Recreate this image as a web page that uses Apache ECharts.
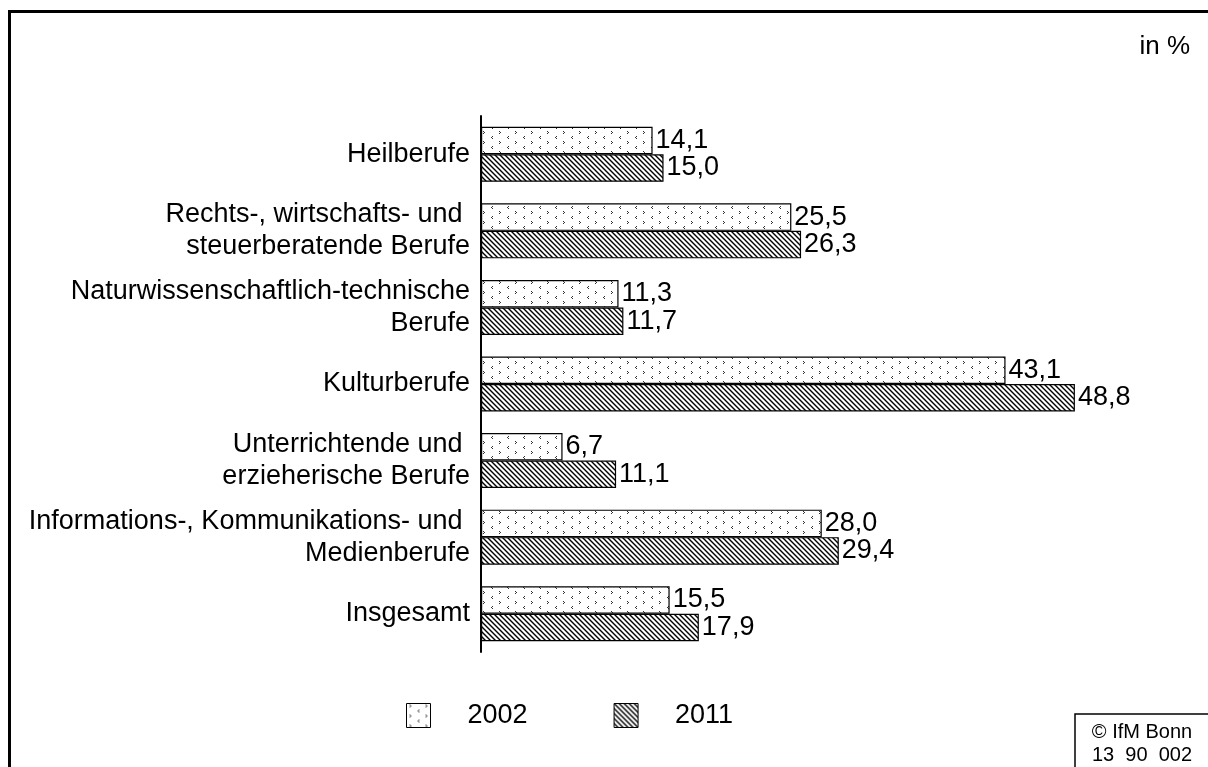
<!DOCTYPE html>
<html>
<head>
<meta charset="utf-8">
<script src="https://cdn.jsdelivr.net/npm/echarts@6/dist/echarts.min.js"></script>
<style>
  html, body { margin: 0; padding: 0; background: #fff; }
  #chart { width: 1208px; height: 767px; }
</style>
</head>
<body>
<div id="chart"></div>
<script>
"use strict";

// ── Daten ──────────────────────────────────────────────────────────────────
const categories = [
  "Heilberufe",
  "Rechts-, wirtschafts- und \nsteuerberatende Berufe",
  "Naturwissenschaftlich-technische\nBerufe",
  "Kulturberufe",
  "Unterrichtende und \nerzieherische Berufe",
  "Informations-, Kommunikations- und \nMedienberufe",
  "Insgesamt"
];
const years = ["2002", "2011"];
const values2002 = [14.1, 25.5, 11.3, 43.1, 6.7, 28.0, 15.5];
const values2011 = [15.0, 26.3, 11.7, 48.8, 11.1, 29.4, 17.9];

const FONT = "'Liberation Sans', Arial, sans-serif";

// ── Muster ─────────────────────────────────────────────────────────────────
function dotPattern() {
  const c = document.createElement("canvas");
  c.width = 16; c.height = 10;
  const ctx = c.getContext("2d");
  ctx.fillStyle = "#fff";
  ctx.fillRect(0, 0, 16, 10);
  ctx.fillStyle = "#333";
  [[3,1],[4,2],[3,3],[12,6],[11,7],[12,8]].forEach(p => ctx.fillRect(p[0], p[1], 1, 1));
  return c;
}

function hatchPattern() {
  const s = 5;
  const c = document.createElement("canvas");
  c.width = s; c.height = s;
  const ctx = c.getContext("2d");
  ctx.fillStyle = "#fff";
  ctx.fillRect(0, 0, s, s);
  ctx.strokeStyle = "#000";
  ctx.lineWidth = 1.4;
  ctx.beginPath();
  ctx.moveTo(-1, -1); ctx.lineTo(s + 1, s + 1);
  ctx.moveTo(-1, s - 1); ctx.lineTo(1, s + 1);
  ctx.moveTo(s - 1, -1); ctx.lineTo(s + 1, 1);
  ctx.stroke();
  return c;
}

const fill2002 = { image: dotPattern(), repeat: "repeat" };
const fill2011 = { image: hatchPattern(), repeat: "repeat" };

const fmt = v => v.toFixed(1).replace(".", ",");

const chart = echarts.init(document.getElementById("chart"), null, { renderer: "canvas" });

function barSeries(name, data, fill) {
  return {
    name,
    type: "bar",
    data,
    barWidth: 27.5,
    barGap: "0%",
    itemStyle: { color: fill, borderColor: "#000", borderWidth: 1.2 },
    label: {
      show: true, position: "right", distance: 3,
      fontFamily: FONT, fontSize: 27, color: "#000",
      formatter: p => fmt(p.value),
    },
    emphasis: { disabled: true },
  };
}

chart.setOption({
  animation: false,
  grid: { left: 481, top: 116, width: 608.5, height: 536 },
  xAxis: {
    type: "value", min: 0, max: 50, show: false,
  },
  yAxis: {
    type: "category",
    data: categories,
    inverse: true,
    axisLine: { lineStyle: { color: "#000", width: 2 } },
    axisTick: { show: false },
    axisLabel: {
      fontFamily: FONT, fontSize: 27, color: "#000",
      margin: 11, lineHeight: 32, align: "right",
    },
  },
  legend: {
    left: 406, top: 702, padding: 0,
    icon: "rect",
    itemWidth: 24, itemHeight: 24, itemGap: 86,
    data: years,
    textStyle: { fontFamily: FONT, fontSize: 27, color: "#000", padding: [0, 0, 0, 32] },
    itemStyle: { borderColor: "#000", borderWidth: 1 },
  },
  series: [
    barSeries(years[0], values2002, fill2002),
    barSeries(years[1], values2011, fill2011),
  ],
  graphic: [
    { type: "rect", shape: { x: 9.5, y: 11.5, width: 1400, height: 1000 },
      style: { fill: null, stroke: "#000", lineWidth: 3 }, silent: true },
    { type: "text", right: 18, top: 34,
      style: { text: "in %", font: "26px " + FONT, fill: "#000" } },
    { type: "rect", shape: { x: 1075, y: 714, width: 200, height: 100 },
      style: { fill: "#fff", stroke: "#000", lineWidth: 1.5 }, silent: true },
    { type: "text", x: 1142, y: 721,
      style: { text: "© IfM Bonn\n13  90  002", font: "20px " + FONT, fill: "#000",
               align: "center", lineHeight: 23 } },
  ],
});
</script>
</body>
</html>
